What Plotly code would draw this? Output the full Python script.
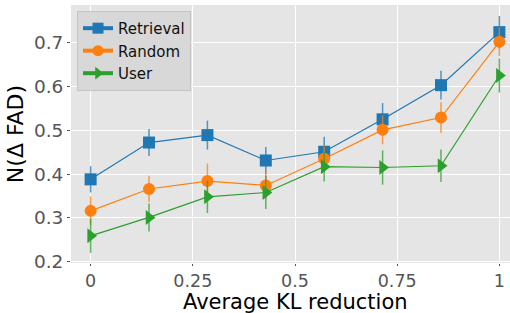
import plotly.graph_objects as go

x_vals = [0, 1/7, 2/7, 3/7, 4/7, 5/7, 6/7, 1]
series_names = ["Retrieval", "Random", "User"]
retrieval = [0.388, 0.472, 0.489, 0.431, 0.451, 0.525, 0.603, 0.724]
retrieval_err = [0.030, 0.031, 0.033, 0.031, 0.034, 0.037, 0.033, 0.037]
random_ = [0.316, 0.366, 0.384, 0.374, 0.435, 0.501, 0.529, 0.702]
random_err = [0.033, 0.030, 0.040, 0.030, 0.030, 0.033, 0.035, 0.033]
user = [0.259, 0.301, 0.348, 0.358, 0.417, 0.415, 0.419, 0.625]
user_err = [0.039, 0.032, 0.037, 0.038, 0.034, 0.039, 0.037, 0.039]
x_tick_vals = [0, 0.25, 0.5, 0.75, 1]
x_tick_text = ["0", "0.25", "0.5", "0.75", "1"]
y_tick_vals = [0.2, 0.3, 0.4, 0.5, 0.6, 0.7]
y_tick_text = ["0.2", "0.3", "0.4", "0.5", "0.6", "0.7"]
x_title = "Average KL reduction"
y_title = "N(Δ FAD)"

colors = ["#1f77b4", "#ff7f0e", "#2ca02c"]
err_colors = ["rgba(31,119,180,0.75)", "rgba(255,127,14,0.75)", "rgba(44,160,44,0.75)"]
symbols = ["square", "circle", "triangle-right"]
sizes = [12, 12, 13]
data = [retrieval, random_, user]
errs = [retrieval_err, random_err, user_err]

fig = go.Figure()
for name, ys, es, c, ec, s, sz in zip(series_names, data, errs, colors, err_colors, symbols, sizes):
    fig.add_trace(go.Scatter(
        x=x_vals, y=ys, mode="lines+markers", name=name, showlegend=False,
        line=dict(color=c, width=1.2),
        marker=dict(symbol=s, size=sz, color=c, line=dict(width=0)),
        error_y=dict(type="data", array=es, visible=True, color=ec, thickness=1.5, width=0),
        cliponaxis=False,
    ))
for name, c, s in zip(series_names, colors, symbols):
    fig.add_trace(go.Scatter(
        x=[None], y=[None], mode="lines+markers", name=name,
        line=dict(color=c, width=4),
        marker=dict(symbol=s, size=11, color=c),
    ))

fig.update_layout(
    width=510, height=313,
    margin=dict(l=71, r=0, t=5, b=50),
    paper_bgcolor="white", plot_bgcolor="#E5E5E5",
    font=dict(family="DejaVu Sans", color="#555555"),
    legend=dict(x=0.0137, y=0.977, xanchor="left", yanchor="top",
                bgcolor="#d8d8d8", bordercolor="#c4c4c4", borderwidth=1,
                font=dict(size=15, color="#111111"), tracegroupgap=0),
    xaxis=dict(range=[-0.048, 1.026], tickvals=x_tick_vals, ticktext=x_tick_text,
               showgrid=True, gridcolor="white", gridwidth=1.3, zeroline=False,
               ticks="outside", ticklen=2, tickcolor="#555555", automargin=False,
               tickfont=dict(size=17.5, color="#555555")),
    yaxis=dict(range=[0.197, 0.786], tickvals=y_tick_vals, ticktext=y_tick_text,
               showgrid=True, gridcolor="white", gridwidth=1.3, zeroline=False,
               ticks="outside", ticklen=3, tickcolor="#555555", automargin=False,
               tickfont=dict(size=18.5, color="#555555"),
               title=dict(text=y_title, font=dict(size=22, color="black"), standoff=4)),
    annotations=[dict(text=x_title, xref="paper", yref="paper", x=(295.5 - 71) / 439,
                      y=-0.15, xanchor="center", yanchor="middle", showarrow=False,
                      font=dict(size=21, color="black"))],
)

fig.write_html("out.html", config={"displayModeBar": False},
               post_script="document.body.style.margin='0';document.body.style.overflow='hidden';")
